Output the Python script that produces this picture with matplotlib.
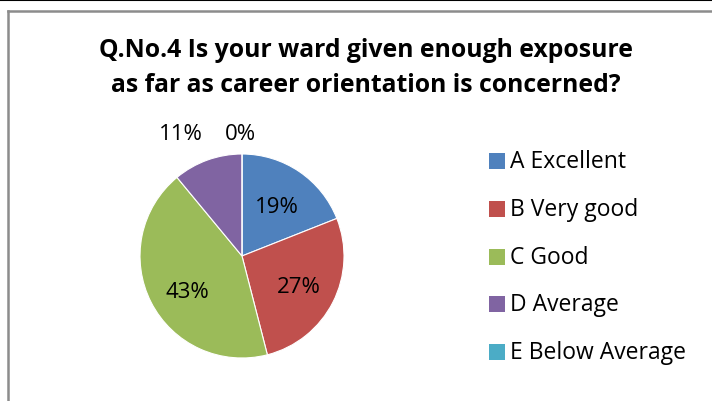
import matplotlib
matplotlib.use("Agg")
import matplotlib.pyplot as plt
from matplotlib.patches import Rectangle
from matplotlib.lines import Line2D

categories = ["A Excellent", "B Very good", "C Good", "D Average", "E Below Average"]
values = [19, 27, 43, 11, 0]
pct_labels = ["19%", "27%", "43%", "11%", "0%"]
colors = ["#4F81BD", "#C0504D", "#9BBB59", "#8064A2", "#4BACC6"]
title = "Q.No.4 Is your ward given enough exposure\nas far as career orientation is concerned?"

plt.rcParams['font.family'] = ['Open Sans', 'DejaVu Sans']

W, H = 712, 402
fig = plt.figure(figsize=(W/100, H/100), dpi=100)

# frame lines
fig.add_artist(Line2D([0, 1], [1 - 0.5/H, 1 - 0.5/H], transform=fig.transFigure, color="black", lw=1.5))
fig.add_artist(Line2D([8/W, 1], [1 - 11.5/H, 1 - 11.5/H], transform=fig.transFigure, color="#8c8c8c", lw=1.8))
fig.add_artist(Line2D([8/W, 8/W], [0, 1 - 11.5/H], transform=fig.transFigure, color="#8c8c8c", lw=1.8))

fig.text(366/W, 1 - 68/H, title, ha="center", va="center", fontsize=17.8,
         fontweight="bold", linespacing=1.5)

cx, cy, r = 242, 257, 102
ax = fig.add_axes([(cx - r)/W, (H - cy - r)/H, 2*r/W, 2*r/H])
wedges, _ = ax.pie(values, colors=colors, startangle=90, counterclock=False,
                   wedgeprops=dict(linewidth=0.8, edgecolor="white"))
ax.set_aspect("equal")

# percentage labels (positions from chart layout, in axes-data coords)
label_pos = [(0.34, 0.49), (0.56, -0.30), (-0.54, -0.35), (-0.60, 1.20), (-0.02, 1.20)]
for (lx, ly), t in zip(label_pos, pct_labels):
    ax.text(lx, ly, t, ha="center", va="center", fontsize=16, color="black")
ax.set_xlim(-1, 1)
ax.set_ylim(-1, 1)

# legend
leg_y = [162, 210, 258, 305, 353]
for c, lab, y in zip(colors, categories, leg_y):
    fig.add_artist(Rectangle((489/W, (H - y - 8)/H), 16/W, 16/H, transform=fig.transFigure,
                             facecolor=c, edgecolor="none"))
    fig.text(510/W, (H - y)/H, lab, ha="left", va="center", fontsize=16.5)

fig.savefig("out.png", dpi=100)
